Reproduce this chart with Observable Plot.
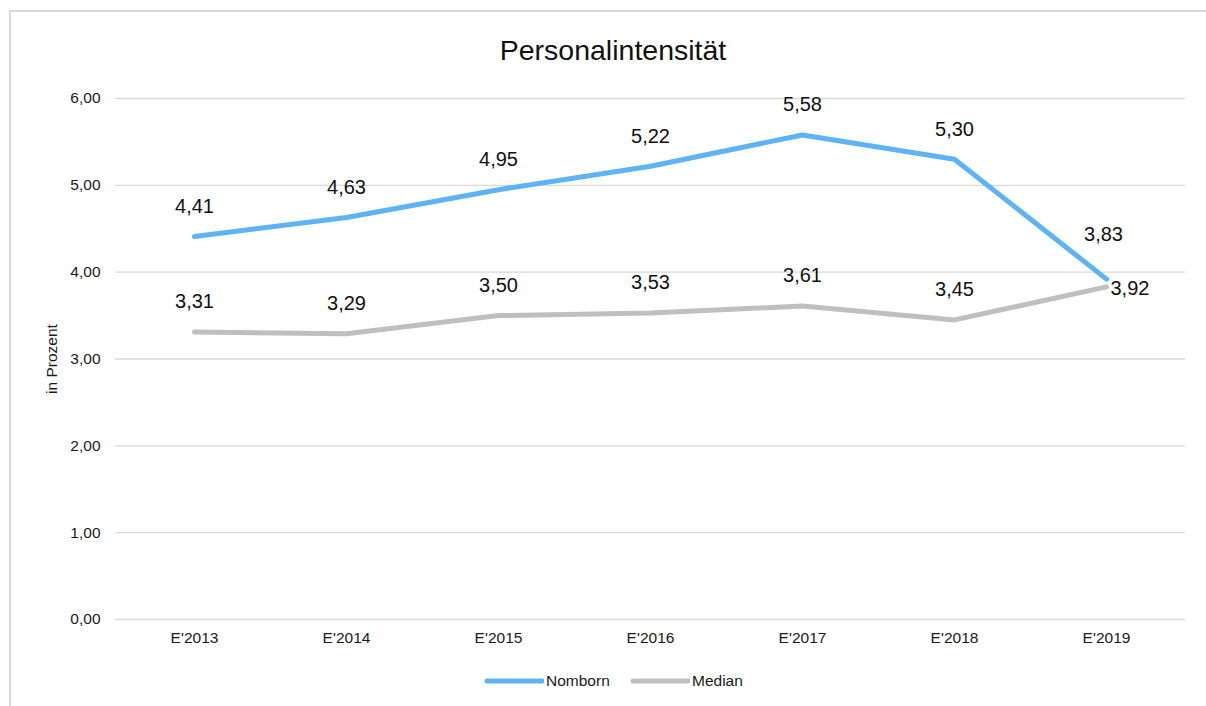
<!DOCTYPE html>
<html>
<head>
<meta charset="utf-8">
<script src="https://cdn.jsdelivr.net/npm/d3@7"></script>
<script src="https://cdn.jsdelivr.net/npm/@observablehq/plot@0.6"></script>
<style>
  html, body { margin: 0; padding: 0; background: #fff; }
  body { width: 1206px; height: 706px; position: relative; overflow: hidden; font-family: "Liberation Sans", Arial, sans-serif; }
  #frame { position: absolute; left: 9px; top: 10px; width: 1210px; height: 710px; border-left: 2px solid #d9d9d9; border-top: 2px solid #d9d9d9; box-sizing: border-box; }
  #title { position: absolute; left: 613px; top: 34px; transform: translateX(-50%); font-size: 28.5px; line-height: 32px; color: #111; white-space: nowrap; }
  #chart { position: absolute; left: 0; top: 80px; }
  #legend { position: absolute; left: 0; top: 671px; width: 1206px; height: 20px; }
  .item { position: absolute; top: 0; height: 20px; display: flex; align-items: center; font-size: 15.5px; color: #1a1a1a; }
  .item svg { margin-right: 2px; }
</style>
</head>
<body>
<div id="frame"></div>
<div id="title">Personalintensität</div>
<div id="chart"></div>
<div id="legend"></div>
<script>
const years = ["E'2013", "E'2014", "E'2015", "E'2016", "E'2017", "E'2018", "E'2019"];
const nomborn = [4.41, 4.63, 4.95, 5.22, 5.58, 5.30, 3.92];
const median = [3.31, 3.29, 3.50, 3.53, 3.61, 3.45, 3.83];
const seriesNames = ["Nomborn", "Median"];
const seriesColors = ["#5db3f5", "#bfbfbf"];
const yTicks = [0, 1, 2, 3, 4, 5, 6];

const fmt = v => v.toFixed(2).replace(".", ",");

const data = years.flatMap((year, i) => [
  {year, series: "Nomborn", value: nomborn[i]},
  {year, series: "Median", value: median[i]}
]);
const last = years[years.length - 1];
const regular = data.filter(d => d.year !== last);
const lastNomborn = data.filter(d => d.year === last && d.series === "Nomborn");
const lastMedian = data.filter(d => d.year === last && d.series === "Median");

const chart = Plot.plot({
  width: 1206,
  height: 580,
  marginLeft: 115,
  marginRight: 21,
  marginTop: 18,
  marginBottom: 41,
  style: {fontFamily: "Liberation Sans, Arial, sans-serif", color: "#1a1a1a", background: "transparent"},
  x: {type: "point", domain: years, padding: 0.5},
  y: {domain: [0, 6]},
  color: {domain: seriesNames, range: seriesColors},
  marks: [
    Plot.gridY(yTicks, {stroke: "#d9d9d9", strokeOpacity: 1, strokeWidth: 1.4}),
    Plot.axisY(yTicks, {tickSize: 0, tickPadding: 15, fontSize: 15.5, tickFormat: fmt,
      label: "in Prozent", labelAnchor: "center", labelOffset: 70, labelArrow: "none"}),
    Plot.axisX({tickSize: 0, tickPadding: 12, fontSize: 15.5, label: null}),
    Plot.lineY(data, {x: "year", y: "value", z: "series", stroke: "series",
      strokeWidth: 5, strokeLinecap: "round", strokeLinejoin: "round"}),
    Plot.text(regular, {x: "year", y: "value", text: d => fmt(d.value), dy: -30, fontSize: 20, fill: "#111"}),
    Plot.text(lastNomborn, {x: "year", y: "value", text: d => fmt(d.value), dx: 4, dy: 9, textAnchor: "start", fontSize: 20, fill: "#111"}),
    Plot.text(lastMedian, {x: "year", y: "value", text: d => fmt(d.value), dx: -3, dy: -52, fontSize: 20, fill: "#111"})
  ]
});
document.getElementById("chart").appendChild(chart);

const legend = document.getElementById("legend");
const legendX = [484, 630];
seriesNames.forEach((name, i) => {
  const item = document.createElement("div");
  item.className = "item";
  item.style.left = legendX[i] + "px";
  item.innerHTML = `<svg width="60" height="8"><line x1="3" y1="4" x2="58" y2="4" stroke="${seriesColors[i]}" stroke-width="5" stroke-linecap="round"/></svg><span>${name}</span>`;
  legend.appendChild(item);
});
</script>
</body>
</html>
